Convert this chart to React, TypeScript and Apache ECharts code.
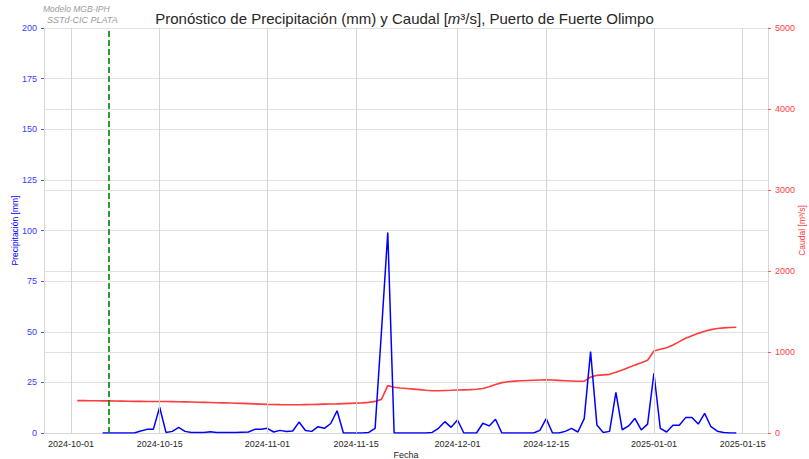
import React, { useEffect, useRef } from 'react';
import * as echarts from 'echarts';

// Precipitación diaria [mm], desde 2024-10-06
const precipStart = '2024-10-06';
const precipitacion = [
  0, 0, 0, 0, 0, 0, 1.0, 1.8, 1.8, 12.7, 0.3, 0.8, 2.8, 0.8, 0.2, 0.2, 0.3, 0.6, 0.3, 0.2, 0.2, 0.3, 0.4, 0.5, 1.8, 1.8,
  2.3, 0.5, 1.3, 0.7, 1.0, 5.4, 1.2, 0.8, 3.1, 2.3, 4.7, 11.0, 0, 0, 0, 0, 0.3, 2.3, 50.0, 99.0, 0, 0, 0, 0, 0, 0, 0.3, 2.3, 5.6, 2.8,
  6.4, 0, 0, 0, 4.8, 3.5, 6.8, 0, 0, 0, 0, 0, 0, 1.3, 7.1, 0, 0, 0.8, 2.3, 0.5, 7.1, 40.2, 4.0, 0.3, 0.8, 20.1, 1.6, 3.5, 7.2, 1.5, 4.4,
  29.5, 2.3, 0.5, 3.8, 3.8, 7.6, 7.7, 4.4, 9.7, 3.1, 0.9, 0.2, 0, 0,
];

// Caudal diario [m3/s], desde 2024-10-02
const caudalStart = '2024-10-02';
const caudal = [
  400, 400, 399, 398, 397, 396, 395, 394, 392, 391, 390, 389, 388, 388, 388, 387, 386, 384, 382, 380, 378, 376, 374, 372, 370, 368, 366, 363, 360, 357,
  354, 352, 350, 349, 348, 348, 350, 352, 354, 356, 358, 360, 363, 366, 369, 372, 378, 390, 415, 585, 565, 556, 549, 542, 535, 528, 522, 522, 525, 527,
  530, 533, 536, 540, 550, 570, 600, 622, 633, 640, 645, 649, 652, 654, 656, 654, 650, 646, 642, 638, 640, 690, 712, 718, 724, 750, 778, 808, 838, 866, 898,
  1012, 1033, 1053, 1086, 1128, 1169, 1202, 1230, 1256, 1276, 1290, 1298, 1303, 1306,
];

const xTickLabels = ['2024-10-01', '2024-10-15', '2024-11-01', '2024-11-15', '2024-12-01', '2024-12-15', '2025-01-01', '2025-01-15'];
const precipTicks = [0, 25, 50, 75, 100, 125, 150, 175, 200];
const caudalTicks = [0, 1000, 2000, 3000, 4000, 5000];
const inicioPronostico = '2024-10-07';

const DAY = 86400000;
const HOUR = 3600000;
const ts = (s: string) => Date.parse(s + 'T00:00:00Z');
const toSeries = (start: string, vals: number[]) => vals.map((v, i) => [ts(start) + i * DAY, v]);

const FONT = 'Liberation Sans, Arial, sans-serif';
const BLUE = '#0000ff';
const RED = '#ff3b3b';
const GRID = '#e2e2e2';
const W = 809;
const H = 459;

export default function App() {
  const ref = useRef<HTMLDivElement>(null);
  useEffect(() => {
    if (!ref.current) return;
    const chart = echarts.init(ref.current, undefined, { renderer: 'svg', width: W, height: H });
    chart.setOption({
      animation: false,
      backgroundColor: '#ffffff',
      textStyle: { fontFamily: FONT },
      title: {
        text: 'Pronóstico de Precipitación (mm) y Caudal [{it|m}³/s], Puerto de Fuerte Olimpo',
        left: 'center',
        top: 6,
        textStyle: {
          fontFamily: FONT,
          fontSize: 15,
          fontWeight: 'normal',
          color: '#262626',
          rich: { it: { fontFamily: FONT, fontSize: 15, fontStyle: 'italic', color: '#262626' } },
        },
      },
      graphic: [
        { type: 'text', left: 43, top: 4, style: { text: 'Modelo MGB-IPH', font: 'italic 8.5px ' + FONT, fill: '#9a9a9a' } },
        { type: 'text', left: 47, top: 15, style: { text: 'SSTd-CIC PLATA', font: 'italic 9px ' + FONT, fill: '#9a9a9a' } },
      ],
      grid: { left: 44, right: 41, top: 28, bottom: 26, containLabel: false, outerBoundsMode: 'none' },
      xAxis: {
        type: 'value',
        min: ts('2024-09-26') + 18 * HOUR,
        max: ts('2025-01-19'),
        interval: 6 * HOUR,
        name: 'Fecha',
        nameLocation: 'middle',
        nameGap: 17,
        nameMoveOverlap: false,
        nameTextStyle: { color: '#262626', fontSize: 9, fontFamily: FONT },
        axisLine: { show: true, lineStyle: { color: '#d8d8d8' } },
        axisTick: { show: false },
        splitLine: { show: false },
        axisLabel: {
          color: '#262626',
          fontSize: 9,
          margin: 6,
          fontFamily: FONT,
          formatter: (v: number) => {
            const d = new Date(v);
            if (d.getUTCHours() !== 0) return '';
            const s = d.toISOString().slice(0, 10);
            return xTickLabels.includes(s) ? s : '';
          },
        },
      },
      yAxis: [
        {
          type: 'value',
          position: 'left',
          min: precipTicks[0],
          max: precipTicks[precipTicks.length - 1],
          interval: 25,
          name: 'Precipitación [mm]',
          nameLocation: 'middle',
          nameGap: 25,
          nameMoveOverlap: false,
          nameTextStyle: { color: BLUE, fontSize: 8.5, fontFamily: FONT },
          axisLine: { show: true, lineStyle: { color: '#d8d8d8' } },
          axisTick: { show: true, length: 3, lineStyle: { color: '#5555ff' } },
          axisLabel: { color: '#3a3aff', fontSize: 9, margin: 7, fontFamily: FONT, formatter: (v: number) => String(v) },
          splitLine: { show: true, lineStyle: { color: GRID, width: 1 } },
        },
        {
          type: 'value',
          position: 'right',
          min: caudalTicks[0],
          max: caudalTicks[caudalTicks.length - 1],
          interval: 1000,
          name: 'Caudal [m³/s]',
          nameLocation: 'middle',
          nameGap: 29,
          nameRotate: 90,
          nameMoveOverlap: false,
          nameTextStyle: { color: RED, fontSize: 8.5, fontFamily: FONT },
          axisLine: { show: true, lineStyle: { color: '#d8d8d8' } },
          axisTick: { show: true, length: 3, lineStyle: { color: '#ff5555' } },
          axisLabel: { color: '#ff4040', fontSize: 9, margin: 7, fontFamily: FONT, formatter: (v: number) => String(v) },
          splitLine: { show: true, lineStyle: { color: GRID, width: 1 } },
        },
      ],
      series: [
        {
          name: 'grid-x',
          type: 'line',
          data: [],
          z: 1,
          silent: true,
          markLine: {
            silent: true,
            symbol: 'none',
            label: { show: false },
            lineStyle: { color: '#d4d4d4', type: 'solid', width: 1 },
            data: xTickLabels.map((s) => ({ xAxis: ts(s) })),
          },
        },
        {
          name: 'Caudal',
          type: 'line',
          yAxisIndex: 1,
          data: toSeries(caudalStart, caudal),
          showSymbol: false,
          symbol: 'none',
          z: 3,
          lineStyle: { color: RED, width: 1.6 },
        },
        {
          name: 'Precipitación',
          type: 'line',
          yAxisIndex: 0,
          data: toSeries(precipStart, precipitacion),
          showSymbol: false,
          symbol: 'none',
          z: 4,
          lineStyle: { color: BLUE, width: 1.5 },
          markLine: {
            silent: true,
            symbol: 'none',
            label: { show: false },
            lineStyle: { color: '#008000', type: [6, 3], width: 1.6 },
            data: [{ xAxis: ts(inicioPronostico) }],
          },
        },
      ],
    });
    return () => chart.dispose();
  }, []);
  return <div ref={ref} style={{ position: 'absolute', left: 0, top: 0, width: W, height: H }} />;
}
